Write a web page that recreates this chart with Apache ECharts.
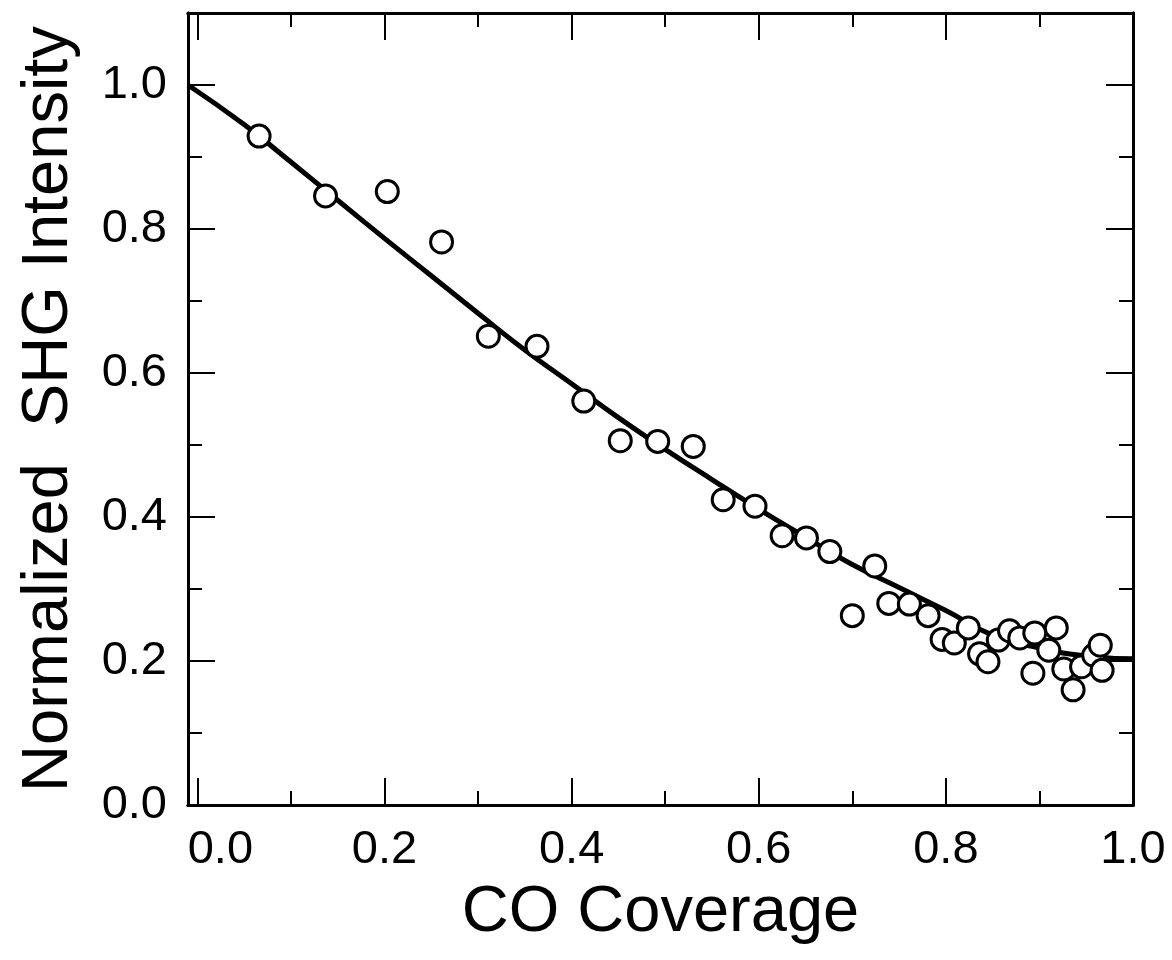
<!DOCTYPE html>
<html>
<head>
<meta charset="utf-8">
<script src="https://cdn.jsdelivr.net/npm/echarts@6/dist/echarts.min.js"></script>
<style>
html,body{margin:0;padding:0;background:#fff;}
#chart{width:1172px;height:960px;}
</style>
</head>
<body>
<div id="chart"></div>
<script>
// Measured data points (CO coverage, normalized SHG intensity)
const coverage = [0.066,0.137,0.203,0.261,0.311,0.363,0.413,0.452,0.492,0.530,
  0.562,0.596,0.625,0.651,0.676,0.700,0.724,0.739,0.761,0.781,
  0.796,0.809,0.824,0.836,0.845,0.856,0.868,0.879,0.895,0.918,
  0.910,0.893,0.926,0.936,0.945,0.958,0.965,0.967];
const intensity = [0.929,0.846,0.852,0.782,0.651,0.637,0.561,0.506,0.505,0.498,
  0.424,0.415,0.374,0.371,0.352,0.263,0.332,0.280,0.279,0.263,
  0.230,0.225,0.246,0.210,0.199,0.229,0.242,0.232,0.239,0.246,
  0.215,0.183,0.189,0.160,0.192,0.208,0.222,0.187];
// Fitted curve
const fitX = [-0.01,0.05,0.10,0.15,0.20,0.25,0.30,0.35,0.40,0.45,0.50,0.55,0.60,0.65,0.70,0.75,0.80,0.85,0.90,0.95,1.00];
const fitY = [1.000,0.945,0.893,0.840,0.787,0.735,0.683,0.632,0.585,0.538,0.494,0.452,0.411,0.372,0.334,0.302,0.270,0.236,0.218,0.207,0.203];
// Tick values
const xMajor = [0,0.2,0.4,0.6,0.8,1.0];
const xMinor = [0.1,0.3,0.5,0.7,0.9];
const yMajor = [0,0.2,0.4,0.6,0.8,1.0];
const yMinor = [0.1,0.3,0.5,0.7,0.9];

const FONT = '"Liberation Sans", Arial, Helvetica, sans-serif';
const chart = echarts.init(document.getElementById('chart'), null, {renderer:'canvas'});

function axLine(){ return {show:true, onZero:false, lineStyle:{color:'#000', width:3}}; }
function xAx(pos, ticks, len, labels){
  return {
    type:'value', position:pos, min:-0.01, max:1.0,
    axisLine: axLine(),
    axisTick:{show:true, inside:true, length:len, customValues:ticks, lineStyle:{color:'#000', width:2}},
    axisLabel: labels ? {show:true, customValues:xMajor, margin:22, color:'#000', fontSize:47, fontFamily:FONT,
      formatter:function(v){ return v===0 ? '{z|0.0}' : v.toFixed(1); },
      rich:{z:{fontSize:47, fontFamily:FONT, color:'#000', padding:[0,0,0,46]}}} : {show:false},
    splitLine:{show:false}
  };
}
function yAx(pos, ticks, len, labels){
  return {
    type:'value', position:pos, min:0, max:1.1,
    axisLine: axLine(),
    axisTick:{show:true, inside:true, length:len, customValues:ticks, lineStyle:{color:'#000', width:2}},
    axisLabel: labels ? {show:true, customValues:yMajor, margin:21, color:'#000', fontSize:47, fontFamily:FONT,
      formatter:function(v){ return v.toFixed(1); }} : {show:false},
    splitLine:{show:false}
  };
}

const xAxes = [xAx('bottom', xMajor, 27, true), xAx('bottom', xMinor, 14, false),
               xAx('top', xMajor, 27, false), xAx('top', xMinor, 14, false)];
xAxes[0].name = 'CO Coverage';
xAxes[0].nameLocation = 'middle';
xAxes[0].nameGap = 76;
xAxes[0].nameTextStyle = {fontSize:65, fontFamily:FONT, color:'#000'};

const yAxes = [yAx('left', yMajor, 27, true), yAx('left', yMinor, 14, false),
               yAx('right', yMajor, 27, false), yAx('right', yMinor, 14, false)];
yAxes[0].name = 'Normalized  SHG Intensity';
yAxes[0].nameLocation = 'middle';
yAxes[0].nameGap = 106;
yAxes[0].nameTextStyle = {fontSize:65, fontFamily:FONT, color:'#000'};

chart.setOption({
  backgroundColor:'#fff',
  animation:false,
  grid:{left:188, right:39, top:13, bottom:155, containLabel:false},
  xAxis: xAxes,
  yAxis: yAxes,
  series:[
    {type:'line', xAxisIndex:0, yAxisIndex:0, data: fitX.map((x,i)=>[x, fitY[i]]),
     smooth:true, showSymbol:false, symbol:'none', lineStyle:{color:'#000', width:5}, z:2},
    {type:'scatter', xAxisIndex:0, yAxisIndex:0, data: coverage.map((x,i)=>[x, intensity[i]]),
     symbol:'circle', symbolSize:22, itemStyle:{color:'#fff', borderColor:'#000', borderWidth:3, opacity:1}, z:3}
  ]
});
</script>
</body>
</html>
